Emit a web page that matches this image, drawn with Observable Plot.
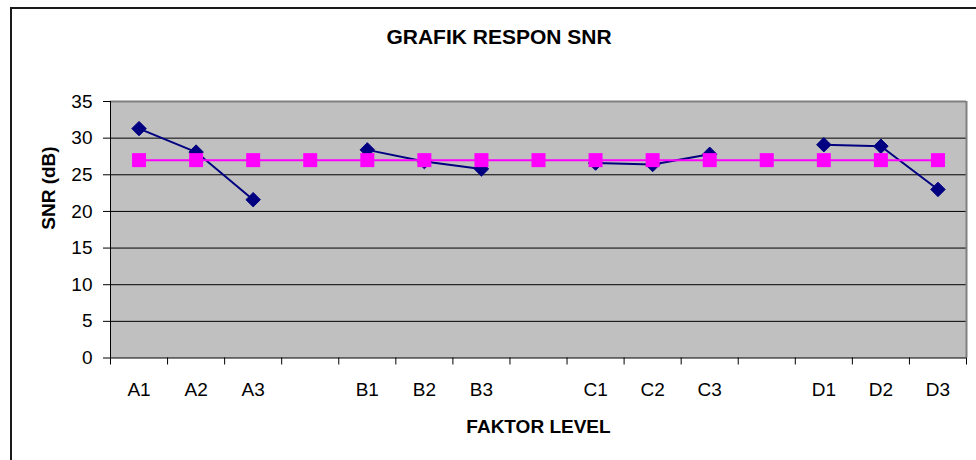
<!DOCTYPE html>
<html>
<head>
<meta charset="utf-8">
<script src="https://cdn.jsdelivr.net/npm/d3@7"></script>
<script src="https://cdn.jsdelivr.net/npm/@observablehq/plot@0.6"></script>
<style>
  body { margin: 0; background: #fff; }
  #wrap { position: relative; width: 976px; height: 460px; overflow: hidden; }
  #border { position: absolute; left: 10px; top: 7px; width: 1200px; height: 600px;
            border-left: 2px solid #1a1a1a; border-top: 2px solid #1a1a1a; pointer-events: none; }
</style>
</head>
<body>
<div id="wrap"><div id="border"></div></div>
<script>
// ---- data ----
const categories = ["A1", "A2", "A3", "", "B1", "B2", "B3", "", "C1", "C2", "C3", "", "D1", "D2", "D3"];
const snrValues  = [31.3, 28.1, 21.6, null, 28.4, 26.8, 25.8, null, 26.6, 26.4, 27.8, null, 29.1, 28.9, 23.0];
const meanValues = [27.0, 27.0, 27.0, 27.0, 27.0, 27.0, 27.0, 27.0, 27.0, 27.0, 27.0, 27.0, 27.0, 27.0, 27.0];
const yTicks = [0, 5, 10, 15, 20, 25, 30, 35];
const gridTicks = [5, 10, 15, 20, 25, 30];
const titleText = "GRAFIK RESPON SNR";
const xTitle = "FAKTOR LEVEL";
const yTitle = "SNR (dB)";

const rows = categories.map((c, i) => ({ pos: i + 0.5, label: c, snr: snrValues[i], mean: meanValues[i] }));
const centers = rows.map(r => r.pos);
const bounds = d3.range(categories.length + 1);

const chart = Plot.plot({
  width: 976,
  height: 460,
  marginLeft: 110,
  marginRight: 10,
  marginTop: 101,
  marginBottom: 102.5,
  style: { fontFamily: "'Liberation Sans', Arial, sans-serif", background: "transparent", color: "#000" },
  x: { type: "linear", domain: [0, categories.length] },
  y: { domain: [0, 35] },
  marks: [
    Plot.frame({ fill: "#c0c0c0", stroke: null }),
    Plot.gridY(gridTicks, { stroke: "#000", strokeOpacity: 1, strokeWidth: 1 }),
    Plot.ruleY([35], { stroke: "#808080", strokeWidth: 2 }),
    Plot.ruleX([categories.length], { stroke: "#808080", strokeWidth: 2 }),
    Plot.ruleX([0], { stroke: "#000", strokeWidth: 1 }),
    Plot.ruleY([0], { stroke: "#000", strokeWidth: 1 }),
    Plot.axisY(yTicks, { tickSize: 7, tickPadding: 11, fontSize: 19, label: null, stroke: "#000" }),
    Plot.axisX(bounds, { tickSize: 7, tickFormat: () => "", label: null, stroke: "#000" }),
    Plot.axisX(centers, { tickSize: 0, tickPadding: 24, fontSize: 19, label: null,
                          tickFormat: d => categories[Math.floor(d)] }),
    Plot.line(rows, { x: "pos", y: "snr", stroke: "#000080", strokeWidth: 2 }),
    Plot.dot(rows.filter(r => r.snr != null), { x: "pos", y: "snr", symbol: "diamond2", r: 6.5,
                          fill: "#000080", stroke: "#000080", strokeWidth: 1 }),
    Plot.line(rows, { x: "pos", y: "mean", stroke: "#ff00ff", strokeWidth: 2 }),
    Plot.dot(rows, { x: "pos", y: "mean", symbol: "square", r: 7.9, fill: "#ff00ff", stroke: null }),
    Plot.text([titleText], { text: d => d, frameAnchor: "top", dx: -39.5, dy: -57.5, lineAnchor: "bottom",
                          fontSize: 21, fontWeight: "bold", fill: "#000" }),
    Plot.text([xTitle], { text: d => d, frameAnchor: "bottom", dy: 74.5, lineAnchor: "bottom",
                          fontSize: 19, fontWeight: "bold", fill: "#000" }),
    Plot.text([yTitle], { text: d => d, frameAnchor: "left", dx: -62, rotate: -90, lineAnchor: "middle",
                          fontSize: 19, fontWeight: "bold", fill: "#000" })
  ]
});
document.getElementById("wrap").insertBefore(chart, document.getElementById("border"));
</script>
</body>
</html>
